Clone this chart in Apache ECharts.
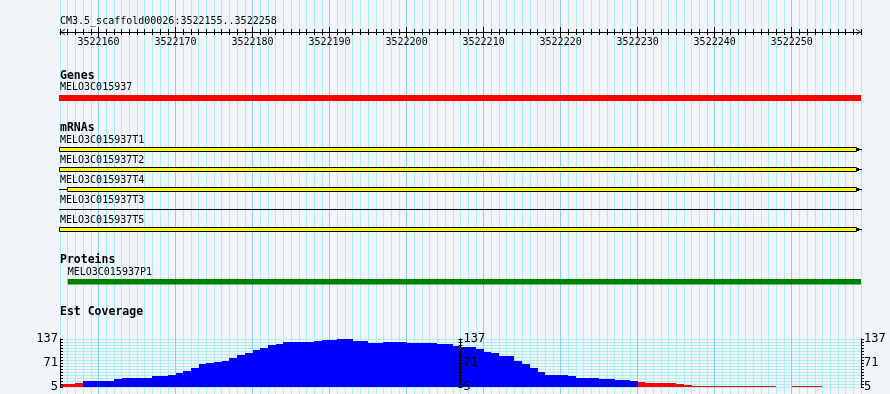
<!DOCTYPE html>
<html><head><meta charset="utf-8">
<script src="https://cdn.jsdelivr.net/npm/echarts@6/dist/echarts.min.js"></script>
<style>html,body{margin:0;padding:0;background:#f1f5fa}#c{width:890px;height:394px}</style>
</head><body><div id="c"></div>
<script>
// ---------------- data ----------------
const regionLabel = 'CM3.5_scaffold00026:3522155..3522258';
const regionStart = 3522155;
const regionEnd = 3522259;
const rulerLabels = [3522160, 3522170, 3522180, 3522190, 3522200, 3522210, 3522220, 3522230, 3522240, 3522250];

const sectionTitles = ['Genes', 'mRNAs', 'Proteins', 'Est Coverage'];

const geneNames = ['MELO3C015937'];
const geneStarts = [3522120];
const geneEnds = [3522300];

const mrnaNames = ['MELO3C015937T1', 'MELO3C015937T2', 'MELO3C015937T4', 'MELO3C015937T3', 'MELO3C015937T5'];
const mrnaStarts = [3522120, 3522120, 3522120, 3522120, 3522120];
const mrnaEnds = [3522300, 3522300, 3522300, 3522300, 3522300];
const mrnaExonStarts = [3522120, 3522120, 3522156, null, 3522120];
const mrnaExonEnds = [3522300, 3522300, 3522300, null, 3522300];

const proteinNames = ['MELO3C015937P1'];
const proteinStarts = [3522156];
const proteinEnds = [3522300];

const coverageStart = 3522155;
const coverageMin = 5;
const coverageMax = 137;
const coverageTicks = [5, 71, 137];
const coverage = [
  14, 14, 17, 23, 23, 23, 23, 28, 31, 31,
  31, 31, 37, 37, 39, 45, 49, 59, 69, 72,
  75, 78, 85, 93, 100, 107, 113, 120, 124, 130,
  130, 130, 130, 132, 135, 135, 137, 137, 132, 132,
  127, 127, 130, 130, 130, 127, 127, 127, 127, 124,
  124, 119, 116, 116, 110, 101, 99, 91, 91, 77,
  68, 59, 48, 39, 39, 39, 36, 31, 31, 31,
  28, 28, 26, 26, 23, 20, 18, 18, 18, 18,
  14, 11, 8, 8, 8, 8, 8, 8, 8, 8,
  8, 8, 8, 0, 0, 8, 8, 8, 8, 0,
  0, 0, 0, 0
];

// ---------------- style ----------------
const MONO = '"DejaVu Sans Mono", "Liberation Mono", monospace';
const lightLine = '#aeeef0';
const majorLine = '#87cdf5';
const L = 60, R = 29;

const splitColors = [];
for (let k = 0; k < 10; k++) splitColors.push(k === 5 ? majorLine : lightLine);

function hiddenX(grid) {
  return {type: 'value', gridIndex: grid, min: regionStart, max: regionEnd, show: false};
}
function clipX(v, cs) { return Math.max(cs.x, Math.min(cs.x + cs.width, v)); }

function trackRender(names, starts, ends, exS, exE, kind) {
  return function (params, api) {
    const i = params.dataIndex;
    const cs = params.coordSys;
    const bandH = api.size([0, 1])[1];
    const rowTop = api.coord([regionStart, i])[1] - bandH / 2;
    const fs = clipX(api.coord([starts[i], i])[0], cs);
    const fe = clipX(api.coord([ends[i], i])[0], cs);
    const right = cs.x + cs.width;
    const kids = [];
    const labelY = kind === 'gene' ? 7.5 : (kind === 'mrna' ? 6.5 : 8);
    kids.push({type: 'text', z2: 10, style: {text: names[i], x: fs, y: rowTop + labelY, font: '10px ' + MONO, fill: '#000', verticalAlign: 'middle', align: 'left'}});
    if (kind === 'gene') {
      kids.push({type: 'rect', shape: {x: fs - 1, y: rowTop + 15, width: fe - fs + 1, height: 6}, style: {fill: '#ff0000'}});
    } else if (kind === 'protein') {
      kids.push({type: 'rect', shape: {x: fs, y: rowTop + 15, width: fe - fs, height: 5.5}, style: {fill: '#008000'}});
    } else {
      const yc = Math.round(rowTop + 15) + 0.5;
      kids.push({type: 'line', shape: {x1: fs - 1, y1: yc, x2: fe + 1, y2: yc}, style: {stroke: '#000', lineWidth: 1}});
      if (exS[i] != null) {
        const es = clipX(api.coord([exS[i], i])[0], cs);
        const ee = clipX(api.coord([exE[i], i])[0], cs);
        const cont = ee >= right;
        const re = cont ? ee - 4 : ee;
        kids.push({type: 'rect', shape: {x: Math.round(es) - 0.5, y: rowTop + 13.5, width: Math.round(re) - Math.round(es), height: 4}, style: {fill: '#ffff00', stroke: '#000', lineWidth: 1}});
        if (cont) {
          kids.push({type: 'rect', shape: {x: Math.round(re), y: rowTop + 14, width: 2, height: 3}, style: {fill: '#000'}});
        }
      }
    }
    return {type: 'group', children: kids};
  };
}

const chart = echarts.init(document.getElementById('c'), null, {renderer: 'canvas', width: 890, height: 394});

const headerFont = 'bold 11.5px ' + MONO;
const option = {
  backgroundColor: '#f1f5fa',
  animation: false,
  grid: [
    {left: L, right: R, top: 0, bottom: 0},          // 0 background lines
    {left: L, right: R, top: 22, height: 10},        // 1 ruler
    {left: L, right: R, top: 80, height: 24},        // 2 genes
    {left: L, right: R, top: 134, height: 100},      // 3 mRNAs
    {left: L, right: R, top: 264, height: 24},       // 4 proteins
    {left: L, right: R, top: 339, height: 48.3}      // 5 coverage
  ],
  xAxis: [
    {type: 'value', gridIndex: 0, min: regionStart, max: regionEnd, interval: 1,
     axisLine: {show: false}, axisTick: {show: false}, axisLabel: {show: false},
     splitLine: {show: true, showMinLine: true, showMaxLine: true, lineStyle: {color: splitColors, width: 1}}},
    {type: 'value', gridIndex: 1, position: 'bottom', min: regionStart, max: regionEnd, interval: 1, z: 10,
     axisLine: {show: true, lineStyle: {color: '#000', width: 1},
       symbol: ['path://M0,10L6,0L12,10L10.5,10L6,2.6L1.5,10Z', 'path://M0,10L6,0L12,10L10.5,10L6,2.6L1.5,10Z'],
       symbolSize: [9, 5], symbolOffset: [2.5, -2.5]},
     axisTick: {show: true, inside: false, length: 3, lineStyle: {color: '#000'}},
     axisLabel: {show: false}, splitLine: {show: false}},
    {type: 'value', gridIndex: 1, position: 'bottom', min: regionStart, max: regionEnd, interval: 1, z: 10,
     axisLine: {show: false}, axisTick: {show: true, inside: true, length: 3, lineStyle: {color: '#000'}},
     axisLabel: {show: false}, splitLine: {show: false}},
    {type: 'value', gridIndex: 1, position: 'bottom', min: regionStart, max: regionEnd, z: 10,
     axisLine: {show: false},
     axisTick: {show: true, inside: false, length: 5, customValues: rulerLabels, lineStyle: {color: '#000'}},
     axisLabel: {show: true, customValues: rulerLabels, margin: 5, fontSize: 10, fontFamily: MONO, color: '#000',
       formatter: v => String(v)},
     splitLine: {show: false}},
    {type: 'value', gridIndex: 1, position: 'bottom', min: regionStart, max: regionEnd, z: 10,
     axisLine: {show: false},
     axisTick: {show: true, inside: true, length: 5, customValues: rulerLabels, lineStyle: {color: '#000'}},
     axisLabel: {show: false}, splitLine: {show: false}},
    hiddenX(2), hiddenX(3), hiddenX(4), hiddenX(5)
  ],
  yAxis: [
    {type: 'value', gridIndex: 0, show: false},
    {type: 'value', gridIndex: 1, show: false},
    {type: 'category', gridIndex: 2, data: geneNames, inverse: true, show: false},
    {type: 'category', gridIndex: 3, data: mrnaNames, inverse: true, show: false},
    {type: 'category', gridIndex: 4, data: proteinNames, inverse: true, show: false},
    // 5 coverage data axis (left)
    {type: 'value', gridIndex: 5, position: 'left', min: coverageMin, max: coverageMax, z: 10,
     axisLine: {show: true, lineStyle: {color: '#000'}}, axisTick: {show: false}, splitLine: {show: false},
     axisLabel: {show: true, customValues: coverageTicks, margin: 2, fontSize: 12, fontFamily: MONO, color: '#000'}},
    // 6 horizontal grid lines
    {type: 'value', gridIndex: 5, position: 'left', min: 0, max: 16, interval: 1, z: 0,
     axisLine: {show: false}, axisLabel: {show: false},
     axisTick: {show: false},
     splitLine: {show: true, lineStyle: {color: lightLine, width: 1}}},
    // 7 middle axis line + labels
    {type: 'value', gridIndex: 5, position: 'right', offset: -400.5, min: coverageMin, max: coverageMax, z: 10,
     axisLine: {show: true, lineStyle: {color: '#000'}}, axisTick: {show: false}, splitLine: {show: false},
     axisLabel: {show: true, customValues: coverageTicks, margin: 3, fontSize: 12, fontFamily: MONO, color: '#000'}},
    // 8 middle ticks inside
    {type: 'value', gridIndex: 5, position: 'right', offset: -400.5, min: 0, max: 16, interval: 1, z: 10,
     axisLine: {show: false}, axisLabel: {show: false}, splitLine: {show: false},
     axisTick: {show: true, inside: true, length: 2, lineStyle: {color: '#000'}}},
    // 9 middle ticks outside
    {type: 'value', gridIndex: 5, position: 'right', offset: -400.5, min: 0, max: 16, interval: 1, z: 10,
     axisLine: {show: false}, axisLabel: {show: false}, splitLine: {show: false},
     axisTick: {show: true, inside: false, length: 2, lineStyle: {color: '#000'}}},
    // 10 right axis line + labels
    {type: 'value', gridIndex: 5, position: 'right', min: coverageMin, max: coverageMax, z: 10,
     axisLine: {show: true, lineStyle: {color: '#000'}}, axisTick: {show: false}, splitLine: {show: false},
     axisLabel: {show: true, customValues: coverageTicks, margin: 3, fontSize: 12, fontFamily: MONO, color: '#000'}},
    // 11 right ticks
    {type: 'value', gridIndex: 5, position: 'right', min: 0, max: 16, interval: 1, z: 10,
     axisLine: {show: false}, axisLabel: {show: false}, splitLine: {show: false},
     axisTick: {show: true, inside: false, length: 3, lineStyle: {color: '#000'}}},
    // 12 left ticks (inside)
    {type: 'value', gridIndex: 5, position: 'left', min: 0, max: 16, interval: 1, z: 10,
     axisLine: {show: false}, axisLabel: {show: false}, splitLine: {show: false},
     axisTick: {show: true, inside: true, length: 3, lineStyle: {color: '#000'}}}
  ],
  graphic: {
    elements: [
      {type: 'text', z: 100, x: L, y: 21, style: {text: regionLabel, font: '10px ' + MONO, fill: '#000', verticalAlign: 'middle'}},
      {type: 'text', z: 100, x: L, y: 76, style: {text: sectionTitles[0], font: headerFont, fill: '#000', verticalAlign: 'middle'}},
      {type: 'text', z: 100, x: L, y: 128, style: {text: sectionTitles[1], font: headerFont, fill: '#000', verticalAlign: 'middle'}},
      {type: 'text', z: 100, x: L, y: 260, style: {text: sectionTitles[2], font: headerFont, fill: '#000', verticalAlign: 'middle'}},
      {type: 'text', z: 100, x: L, y: 312, style: {text: sectionTitles[3], font: headerFont, fill: '#000', verticalAlign: 'middle'}}
    ]
  },
  series: [
    {type: 'custom', z: 5, xAxisIndex: 5, yAxisIndex: 2, data: geneNames.map((n, i) => [i]),
     renderItem: trackRender(geneNames, geneStarts, geneEnds, null, null, 'gene')},
    {type: 'custom', z: 5, xAxisIndex: 6, yAxisIndex: 3, data: mrnaNames.map((n, i) => [i]),
     renderItem: trackRender(mrnaNames, mrnaStarts, mrnaEnds, mrnaExonStarts, mrnaExonEnds, 'mrna')},
    {type: 'custom', z: 5, xAxisIndex: 7, yAxisIndex: 4, data: proteinNames.map((n, i) => [i]),
     renderItem: trackRender(proteinNames, proteinStarts, proteinEnds, null, null, 'protein')},
    {type: 'custom', z: 5, xAxisIndex: 8, yAxisIndex: 5, data: coverage.map((v, i) => [coverageStart + i, v]),
     renderItem: function (params, api) {
       const bp = api.value(0), v = api.value(1);
       if (!v) return null;
       const p0 = api.coord([bp, v]);
       const p1 = api.coord([bp + 1, coverageMin]);
       const x = Math.round(p0[0]);
       const w = Math.round(p1[0]) - x;
       const yb = Math.round(p1[1]);
       const yt = Math.min(Math.round(p0[1]), yb - 1);
       return {type: 'rect', shape: {x: x, y: yt, width: w, height: yb - yt},
               style: {fill: v < 21.5 ? '#ff0000' : '#0000ff'}};
     }}
  ]
};
chart.setOption(option);
</script>
</body></html>
